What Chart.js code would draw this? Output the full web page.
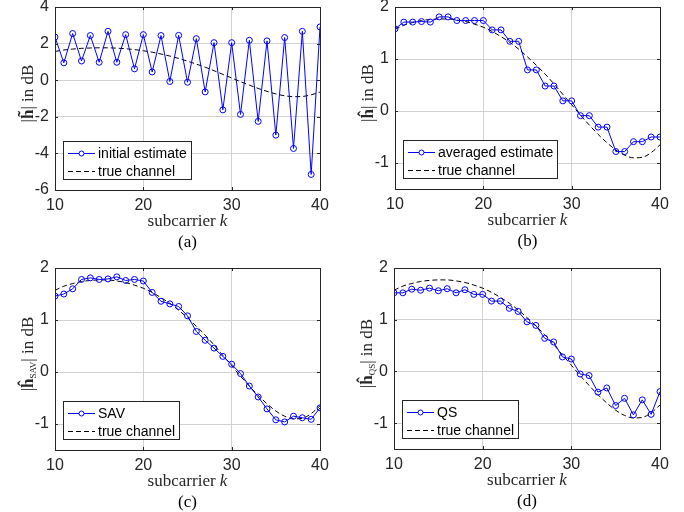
<!DOCTYPE html>
<html><head><meta charset="utf-8">
<script src="https://cdn.jsdelivr.net/npm/chart.js"></script>
<style>
html,body{margin:0;padding:0;background:#fff;}
#wrap{position:relative;width:684px;height:512px;overflow:hidden;}
canvas{position:absolute;}
</style></head><body>
<div id="wrap">
<canvas id="ca" width="342" height="256" style="left:0;top:0"></canvas>
<canvas id="cb" width="342" height="256" style="left:342px;top:0"></canvas>
<canvas id="cc" width="342" height="256" style="left:0;top:256px"></canvas>
<canvas id="cd" width="342" height="256" style="left:342px;top:256px"></canvas>
</div>
<script>
const subcarriers = [10,11,12,13,14,15,16,17,18,19,20,21,22,23,24,25,26,27,28,29,30,31,32,33,34,35,36,37,38,39,40];
const trueChannel = [1.57,1.65,1.70,1.74,1.76,1.77,1.77,1.75,1.72,1.67,1.61,1.53,1.43,1.32,1.19,1.04,0.88,0.71,0.52,0.32,0.12,-0.08,-0.27,-0.45,-0.61,-0.75,-0.85,-0.90,-0.89,-0.80,-0.65];
const initialEstimate = [2.36,0.95,2.55,1.05,2.44,0.98,2.67,0.98,2.49,0.62,2.49,0.45,2.44,-0.07,2.45,-0.11,2.27,-0.64,2.05,-1.62,2.05,-1.87,2.18,-2.25,2.15,-3.0,2.33,-3.73,2.67,-5.15,2.91];
const averagedEstimate = [1.58,1.71,1.71,1.72,1.71,1.81,1.81,1.74,1.74,1.74,1.74,1.56,1.56,1.34,1.34,0.79,0.79,0.48,0.48,0.195,0.195,-0.09,-0.09,-0.31,-0.31,-0.78,-0.78,-0.59,-0.59,-0.50,-0.50];
const savEstimate = [1.46,1.50,1.60,1.78,1.81,1.78,1.79,1.83,1.76,1.78,1.75,1.53,1.36,1.31,1.26,1.08,0.78,0.61,0.46,0.30,0.15,-0.03,-0.27,-0.48,-0.71,-0.92,-0.96,-0.85,-0.88,-0.91,-0.69];
const qsEstimate = [1.52,1.52,1.59,1.57,1.61,1.56,1.60,1.52,1.58,1.49,1.49,1.36,1.36,1.22,1.16,0.96,0.89,0.64,0.57,0.28,0.24,-0.05,-0.08,-0.40,-0.32,-0.66,-0.52,-0.84,-0.55,-0.83,-0.39];
const xTicks = [10,20,30,40];
const yTicksA = [-6,-4,-2,0,2,4];
const yTicksB = [-1,0,1,2];

const SANS = '"Liberation Sans", Arial, sans-serif';
const SERIF = '"Liberation Serif", "Times New Roman", serif';
const TXT = '#262626';
const BLUE = '#0000ff';
const GRID = '#d2d2d2';

function pts(vals){ return subcarriers.map((k,i)=>({x:k,y:vals[i]})); }

function decor(opt){
  return {
    id:'decor',
    afterDraw(chart){
      const ctx = chart.ctx, a = chart.chartArea;
      const L = Math.round(a.left), R = Math.round(a.right), T = Math.round(a.top), B = Math.round(a.bottom);
      ctx.save();
      // inward tick marks
      ctx.strokeStyle = TXT; ctx.lineWidth = 1;
      const xs = chart.scales.x, ys = chart.scales.y;
      ctx.beginPath();
      xTicks.forEach(v=>{ const px = Math.round(xs.getPixelForValue(v))+0.5;
        ctx.moveTo(px,B); ctx.lineTo(px,B-3); ctx.moveTo(px,T); ctx.lineTo(px,T+3); });
      opt.yTicks.forEach(v=>{ const py = Math.round(ys.getPixelForValue(v))+0.5;
        ctx.moveTo(L,py); ctx.lineTo(L+3,py); ctx.moveTo(R,py); ctx.lineTo(R-3,py); });
      ctx.stroke();
      // frame
      ctx.strokeRect(L+0.5, T+0.5, R-L, B-T);
      // legend
      ctx.font = '14px ' + SANS;
      const tw = Math.max(ctx.measureText(opt.label).width, ctx.measureText('true channel').width);
      const bx = L+8, bh = 38, by = B-11-bh, bw = Math.round(35+tw+4);
      ctx.fillStyle = '#fff'; ctx.fillRect(bx+0.5, by+0.5, bw, bh);
      ctx.strokeStyle = TXT; ctx.strokeRect(bx+0.5, by+0.5, bw, bh);
      const r1 = by+12.5, r2 = by+30.5;
      ctx.strokeStyle = BLUE; ctx.lineWidth = 1;
      ctx.beginPath(); ctx.moveTo(bx+5, r1); ctx.lineTo(bx+32, r1); ctx.stroke();
      ctx.beginPath(); ctx.arc(bx+18.5, r1, 2.5, 0, Math.PI*2); ctx.fillStyle='#fff'; ctx.fill(); ctx.stroke();
      ctx.strokeStyle = '#000'; ctx.setLineDash([5,3]);
      ctx.beginPath(); ctx.moveTo(bx+5, r2); ctx.lineTo(bx+32, r2); ctx.stroke();
      ctx.setLineDash([]);
      ctx.fillStyle = '#000'; ctx.textBaseline = 'middle'; ctx.textAlign = 'left';
      ctx.fillText(opt.label, bx+35, r1+0.5);
      ctx.fillText('true channel', bx+35, r2+0.5);
      // x label
      const cx = (L+R)/2;
      ctx.fillStyle = TXT; ctx.textBaseline = 'middle';
      ctx.font = '17px ' + SERIF;
      const s1 = 'subcarrier ';
      const w1 = ctx.measureText(s1).width;
      ctx.font = 'italic 17px ' + SERIF;
      const w2 = ctx.measureText('k').width;
      let x0 = cx - (w1+w2)/2;
      ctx.textAlign = 'left';
      ctx.font = '17px ' + SERIF; ctx.fillText(s1, x0, B+32);
      ctx.font = 'italic 17px ' + SERIF; ctx.fillText('k', x0+w1, B+32);
      // caption
      ctx.fillStyle = '#000'; ctx.textAlign = 'center';
      ctx.font = '17px ' + SERIF; ctx.fillText(opt.caption, cx, B+53);
      // y label (rotated)
      ctx.translate(L-28, (T+B)/2 - 5);
      ctx.rotate(-Math.PI/2);
      ctx.fillStyle = TXT; ctx.textBaseline = 'alphabetic'; ctx.textAlign = 'left';
      const parts = [
        {t:'|', f:'17px '+SERIF, dy:0},
        {t:opt.hsym, f:'bold 17px '+SERIF, dy:0},
      ];
      if (opt.sub) parts.push({t:opt.sub, f:'9px '+SERIF, dy:3});
      parts.push({t:'| in dB', f:'17px '+SERIF, dy:0});
      let tot = 0;
      parts.forEach(p=>{ ctx.font = p.f; p.w = ctx.measureText(p.t).width; tot += p.w; });
      let px = -tot/2;
      parts.forEach(p=>{ ctx.font = p.f; ctx.fillText(p.t, px, 6+p.dy); px += p.w; });
      ctx.restore();
    }
  };
}

function makeChart(id, vals, opt){
  new Chart(document.getElementById(id), {
    type:'line',
    data:{ datasets:[
      { data: pts(vals), borderColor: BLUE, borderWidth: 1, pointRadius: 3, pointBorderWidth: 1,
        pointBackgroundColor:'rgba(0,0,0,0)', pointBorderColor: BLUE, pointStyle:'circle', tension:0, order:1 },
      { data: pts(trueChannel), borderColor:'#000', borderWidth: 1, borderDash:[5,3], pointRadius:0, tension:0.4, cubicInterpolationMode:'monotone', order:2 }
    ]},
    options:{
      responsive:false, animation:false, devicePixelRatio:1,
      layout:{ padding:{ left:0, top:opt.top, right:opt.right, bottom:0 } },
      plugins:{ legend:{display:false}, tooltip:{enabled:false} },
      scales:{
        x:{ type:'linear', min:10, max:40,
          afterBuildTicks:s=>{ s.ticks = xTicks.map(v=>({value:v})); },
          afterFit:s=>{ s.height = opt.xh; s.paddingLeft=0; s.paddingRight=0; s.paddingTop=0; s.paddingBottom=0; },
          grid:{ color:GRID, drawTicks:false, lineWidth:1 },
          border:{ display:false },
          ticks:{ color:TXT, font:{family:SANS, size:16}, padding:6, autoSkip:false, maxRotation:0 } },
        y:{ type:'linear', min:opt.ymin, max:opt.ymax,
          afterBuildTicks:s=>{ s.ticks = opt.yTicks.map(v=>({value:v})); },
          afterFit:s=>{ s.width = opt.yw; s.paddingLeft=0; s.paddingRight=0; s.paddingTop=0; s.paddingBottom=0; },
          grid:{ color:GRID, drawTicks:false, lineWidth:1 },
          border:{ display:false },
          ticks:{ color:TXT, font:{family:SANS, size:16}, padding:6, autoSkip:false } }
      }
    },
    plugins:[decor(opt)]
  });
}

makeChart('ca', initialEstimate, {top:7, right:22, xh:66, yw:55, ymin:-6, ymax:4, yTicks:yTicksA,
  label:'initial estimate', hsym:'h\u0303', sub:'', caption:'(a)'});
makeChart('cb', averagedEstimate, {top:7, right:24, xh:67, yw:53, ymin:-1.5, ymax:2, yTicks:yTicksB,
  label:'averaged estimate', hsym:'\u0125', sub:'', caption:'(b)'});
makeChart('cc', savEstimate, {top:12, right:22, xh:62, yw:55, ymin:-1.5, ymax:2, yTicks:yTicksB,
  label:'SAV', hsym:'\u0125', sub:'SAV', caption:'(c)'});
makeChart('cd', qsEstimate, {top:12, right:24, xh:63, yw:52, ymin:-1.5, ymax:2, yTicks:yTicksB,
  label:'QS', hsym:'\u0125', sub:'QS', caption:'(d)'});
</script>
</body></html>
